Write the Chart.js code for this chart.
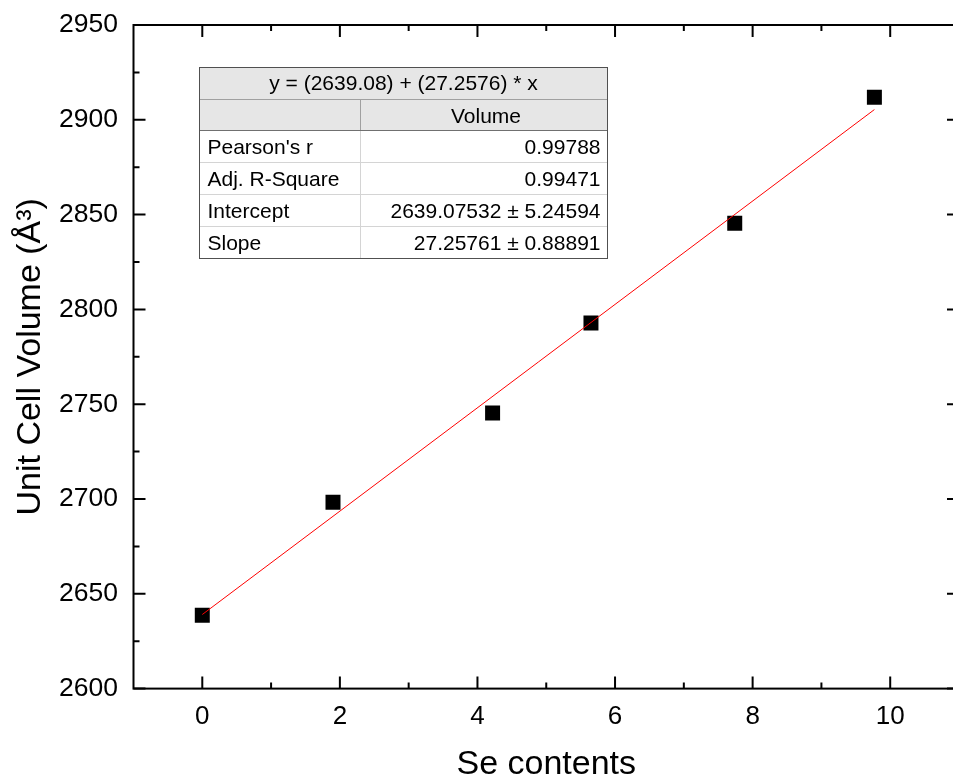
<!DOCTYPE html>
<html>
<head>
<meta charset="utf-8">
<script src="https://cdn.jsdelivr.net/npm/chart.js@4/dist/chart.umd.min.js"></script>
<style>
  html, body { margin: 0; padding: 0; overflow: hidden; background: #fff; }
  canvas { display: block; }
</style>
</head>
<body>
<canvas id="chart" width="966" height="782"></canvas>
<script>
// Measured unit cell volume against Se content
const seContents = [0, 1.9, 4.22, 5.65, 7.74, 9.77];
const cellVolume = [2638.7, 2698.3, 2745.4, 2792.8, 2845.4, 2911.9];

// Linear fit parameters
const fitIntercept = 2639.08;
const fitSlope = 27.2576;

// Axis ticks
const xTicks = [0, 2, 4, 6, 8, 10];
const xMinorTicks = [1, 3, 5, 7, 9];
const yTicks = [2600, 2650, 2700, 2750, 2800, 2850, 2900, 2950];
const yMinorTicks = [2625, 2675, 2725, 2775, 2825, 2875, 2925];

// Fit summary table
const fitEquation = 'y = (2639.08) + (27.2576) * x';
const fitColumnName = 'Volume';
const fitRowLabels = ["Pearson's r", 'Adj. R-Square', 'Intercept', 'Slope'];
const fitRowValues = ['0.99788', '0.99471', '2639.07532 \u00b1 5.24594', '27.25761 \u00b1 0.88891'];

const FONT = "'Liberation Sans', Arial, sans-serif";
Chart.defaults.font.family = FONT;
Chart.defaults.color = '#000';

const points = seContents.map((x, i) => ({ x, y: cellVolume[i] }));
const xFirst = seContents[0];
const xLast = seContents[seContents.length - 1];
const fitLine = [
  { x: xFirst, y: fitIntercept + fitSlope * xFirst },
  { x: xLast, y: fitIntercept + fitSlope * xLast }
];

// Closed frame with inward major/minor ticks on all four sides
const framePlugin = {
  id: 'frame',
  afterDatasetsDraw(chart) {
    const { ctx, chartArea: a, scales: { x, y } } = chart;
    ctx.save();
    ctx.strokeStyle = '#000';
    ctx.lineWidth = 2;
    ctx.beginPath();
    const vTick = (v, len) => {
      const px = x.getPixelForValue(v);
      ctx.moveTo(px, a.bottom); ctx.lineTo(px, a.bottom - len);
      ctx.moveTo(px, a.top); ctx.lineTo(px, a.top + len);
    };
    const hTick = (v, len) => {
      const py = y.getPixelForValue(v);
      ctx.moveTo(a.left, py); ctx.lineTo(a.left + len, py);
      ctx.moveTo(a.right, py); ctx.lineTo(a.right - len, py);
    };
    xTicks.forEach(v => vTick(v, 12));
    xMinorTicks.forEach(v => vTick(v, 6));
    yTicks.forEach(v => hTick(v, 12));
    yMinorTicks.forEach(v => hTick(v, 6));
    ctx.stroke();
    ctx.strokeRect(a.left, a.top, a.right - a.left, a.bottom - a.top);
    ctx.restore();
  }
};

// Fit statistics table inside the plot
const tablePlugin = {
  id: 'fitTable',
  afterDraw(chart) {
    const ctx = chart.ctx;
    const left = 199.5, right = 607.5, mid = 360.5;
    const rows = [67, 99, 130, 162, 194, 226, 258];
    ctx.save();
    ctx.fillStyle = '#e6e6e6';
    ctx.fillRect(left, rows[0], right - left, rows[2] - rows[0]);
    ctx.fillStyle = '#fff';
    ctx.fillRect(left, rows[2], right - left, rows[6] - rows[2]);

    ctx.lineWidth = 1;
    const hLine = (yy, color) => {
      ctx.strokeStyle = color;
      ctx.beginPath(); ctx.moveTo(left, yy + 0.5); ctx.lineTo(right, yy + 0.5); ctx.stroke();
    };
    const vLine = (xx, y0, y1, color) => {
      ctx.strokeStyle = color;
      ctx.beginPath(); ctx.moveTo(xx, y0); ctx.lineTo(xx, y1); ctx.stroke();
    };
    hLine(rows[1], '#a0a0a0');
    for (let i = 3; i < 6; i++) hLine(rows[i], '#d4d4d4');
    vLine(mid, rows[1], rows[2], '#a0a0a0');
    vLine(mid, rows[2], rows[6], '#d4d4d4');
    hLine(rows[2], '#707070');
    ctx.strokeStyle = '#505050';
    ctx.strokeRect(left, rows[0] + 0.5, right - left, rows[6] - rows[0]);

    ctx.fillStyle = '#000';
    ctx.font = '21px ' + FONT;
    ctx.textBaseline = 'alphabetic';
    ctx.textAlign = 'center';
    ctx.fillText(fitEquation, (left + right) / 2, rows[0] + 22.5);
    ctx.fillText(fitColumnName, (mid + right) / 2 + 2, rows[1] + 24);
    fitRowLabels.forEach((label, i) => {
      const base = rows[i + 2] + 24;
      ctx.textAlign = 'left';
      ctx.fillText(label, left + 8, base);
      ctx.textAlign = 'right';
      ctx.fillText(fitRowValues[i], right - 7, base);
    });
    ctx.restore();
  }
};

new Chart(document.getElementById('chart'), {
  type: 'scatter',
  data: {
    datasets: [
      {
        label: 'Volume',
        data: points,
        pointStyle: 'rect',
        pointRadius: 10.6,
        pointHoverRadius: 10.6,
        backgroundColor: '#000',
        borderWidth: 0,
        showLine: false,
        order: 1
      },
      {
        label: 'Linear fit',
        data: fitLine,
        showLine: true,
        borderColor: '#ff0000',
        borderWidth: 1,
        pointRadius: 0,
        fill: false,
        order: 0
      }
    ]
  },
  options: {
    responsive: false,
    animation: false,
    devicePixelRatio: 1,
    layout: { autoPadding: false, padding: { top: 25, right: 7, left: 0, bottom: 0 } },
    plugins: {
      legend: { display: false },
      tooltip: { enabled: false }
    },
    scales: {
      x: {
        type: 'linear',
        position: 'bottom',
        min: -1,
        max: 11,
        afterBuildTicks: s => { s.ticks = xTicks.map(v => ({ value: v })); },
        afterFit: s => {
          s.height = 93.4;
          s.paddingLeft = 0;
          s.paddingRight = 0;
        },
        ticks: {
          font: { size: 26 },
          color: '#000',
          padding: 13,
          maxRotation: 0,
          autoSkip: false,
          callback: v => String(v)
        },
        grid: { display: false, drawTicks: false },
        border: { display: false },
        title: {
          display: true,
          text: 'Se contents',
          color: '#000',
          font: { size: 34, lineHeight: 1 },
          padding: { top: 0, bottom: 0 }
        }
      },
      y: {
        type: 'linear',
        position: 'left',
        min: 2600,
        max: 2950,
        afterBuildTicks: s => { s.ticks = yTicks.map(v => ({ value: v })); },
        afterFit: s => {
          s.width = 133.5;
          s.paddingTop = 0;
          s.paddingBottom = 0;
        },
        ticks: {
          font: { size: 26.5 },
          color: '#000',
          padding: 15.5,
          autoSkip: false,
          callback: v => String(v)
        },
        grid: { display: false, drawTicks: false },
        border: { display: false },
        title: {
          display: true,
          text: 'Unit Cell Volume (\u00c5\u00b3)',
          color: '#000',
          font: { size: 34, lineHeight: 1 },
          padding: { top: 13.5, bottom: 0 }
        }
      }
    }
  },
  plugins: [framePlugin, tablePlugin]
});
</script>
</body>
</html>
